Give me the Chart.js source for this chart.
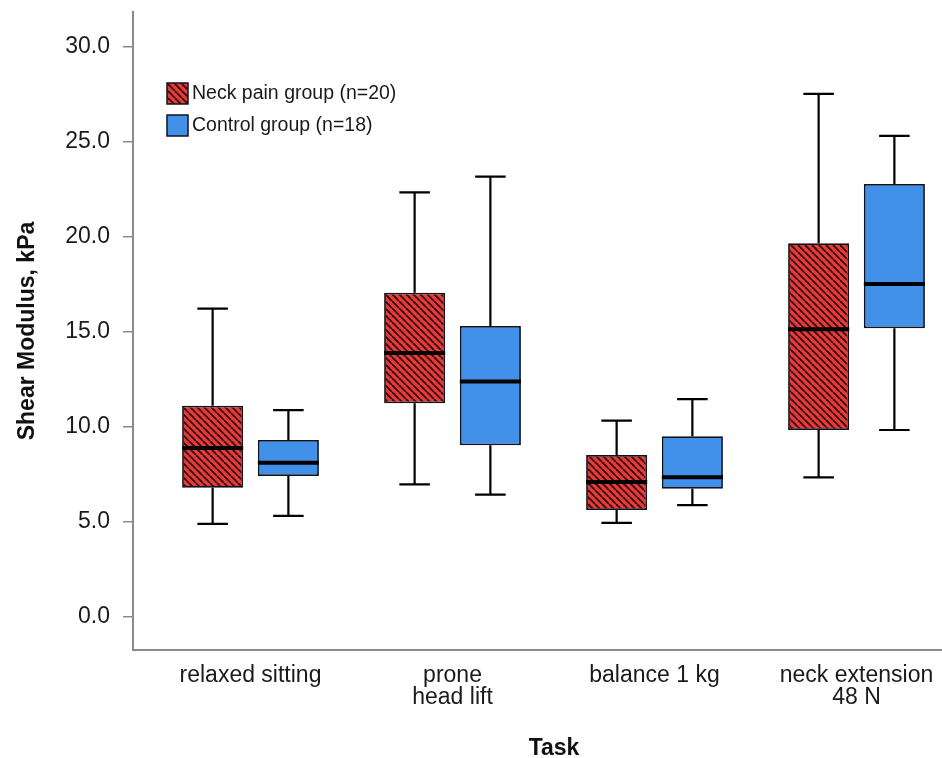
<!DOCTYPE html>
<html>
<head>
<meta charset="utf-8">
<script src="https://cdn.jsdelivr.net/npm/chart.js@4.4.0/dist/chart.umd.min.js"></script>
<style>
  html, body { margin: 0; padding: 0; background: #fff; overflow: hidden; }
  #wrap { width: 975px; height: 758px; }
</style>
</head>
<body>
<div id="wrap"><canvas id="myChart" width="975" height="758"></canvas></div>
<script>
// categories and tick labels
const tasks = [["relaxed sitting"], ["prone", "head lift"], ["balance 1 kg"], ["neck extension", "48 N"]];
const yTicks = [0, 5, 10, 15, 20, 25, 30];
const groupNames = ["Neck pain group (n=20)", "Control group (n=18)"];

// neck pain group (n=20)
const neckMin = [4.9, 6.98, 4.95, 7.35];
const neckQ1  = [6.8, 11.25, 5.63, 9.84];
const neckMed = [8.9, 13.9, 7.1, 15.14];
const neckQ3  = [11.12, 17.07, 8.53, 19.67];
const neckMax = [16.23, 22.35, 10.33, 27.53];

// control group (n=18)
const ctrlMin = [5.32, 6.44, 5.89, 9.84];
const ctrlQ1  = [7.42, 9.04, 6.75, 15.19];
const ctrlMed = [8.12, 12.4, 7.35, 17.53];
const ctrlQ3  = [9.32, 15.32, 9.51, 22.79];
const ctrlMax = [10.89, 23.18, 11.47, 25.32];

//red fill with dark diagonal stripes
const makeHatch = () => {
    const c = document.createElement('canvas');
    c.width = 7; c.height = 7;
    const g = c.getContext('2d');
    g.fillStyle = '#e53b3d';
    g.fillRect(0, 0, 7, 7);
    g.strokeStyle = '#3a0c0c';
    g.lineWidth = 1.9;
    for (let k = -1; k <= 1; k++) {
        g.beginPath();
        g.moveTo(k * 7, 0);
        g.lineTo(k * 7 + 7, 7);
        g.stroke();
    }
    return document.getElementById('myChart').getContext('2d').createPattern(c, 'repeat');
};
const hatch = makeHatch();
const blue = '#4191e8';

const boxes = (q1, q3) => q1.map((v, i) => ({x: i, y: [v, q3[i]]}));

//no extra label padding, the plot area is set by the layout
const noPad = (s) => { s.paddingLeft = 0; s.paddingRight = 0; s.paddingTop = 0; s.paddingBottom = 0; };

//whiskers, caps and medians drawn on top of the floating bars
const whiskerPlugin = {
    id: 'whiskers',
    afterDatasetsDraw(chart) {
        const ctx = chart.ctx;
        const y = chart.scales.y;
        chart.data.datasets.forEach((ds, d) => {
            const meta = chart.getDatasetMeta(d);
            meta.data.forEach((bar, i) => {
                const half = bar.width / 2;
                const cap = bar.width / 4;
                ctx.save();
                ctx.strokeStyle = '#000';
                ctx.lineWidth = 2.2;
                ctx.beginPath();
                ctx.moveTo(bar.x, y.getPixelForValue(ds.q3[i]));
                ctx.lineTo(bar.x, y.getPixelForValue(ds.max[i]));
                ctx.moveTo(bar.x - cap, y.getPixelForValue(ds.max[i]));
                ctx.lineTo(bar.x + cap, y.getPixelForValue(ds.max[i]));
                ctx.moveTo(bar.x, y.getPixelForValue(ds.q1[i]));
                ctx.lineTo(bar.x, y.getPixelForValue(ds.min[i]));
                ctx.moveTo(bar.x - cap, y.getPixelForValue(ds.min[i]));
                ctx.lineTo(bar.x + cap, y.getPixelForValue(ds.min[i]));
                ctx.stroke();
                ctx.lineWidth = 4;
                ctx.beginPath();
                ctx.moveTo(bar.x - half, y.getPixelForValue(ds.med[i]));
                ctx.lineTo(bar.x + half, y.getPixelForValue(ds.med[i]));
                ctx.stroke();
                ctx.restore();
            });
        });
    }
};

//legend box inside the plot, top left
const legendPlugin = {
    id: 'boxLegend',
    afterDraw(chart) {
        const ctx = chart.ctx;
        chart.data.datasets.forEach((ds, d) => {
            const top = 83 + d * 32;
            ctx.save();
            ctx.fillStyle = ds.backgroundColor;
            ctx.fillRect(167, top, 21, 21);
            ctx.strokeStyle = '#10121e';
            ctx.lineWidth = 1.5;
            ctx.strokeRect(167, top, 21, 21);
            ctx.fillStyle = '#1a1a1a';
            ctx.font = '19.5px "Liberation Sans", Arial, sans-serif';
            ctx.textBaseline = 'middle';
            ctx.fillText(groupNames[d], 192, top + 11);
            ctx.restore();
        });
    }
};

new Chart("myChart", {
  type: "bar",
  data: {
    datasets: [{
      label: groupNames[0],
      data: boxes(neckQ1, neckQ3),
      q1: neckQ1, q3: neckQ3, med: neckMed, min: neckMin, max: neckMax,
      backgroundColor: hatch,
      borderColor: '#10121e',
      borderWidth: 1.8,
      borderSkipped: false
    }, {
      label: groupNames[1],
      data: boxes(ctrlQ1, ctrlQ3),
      q1: ctrlQ1, q3: ctrlQ3, med: ctrlMed, min: ctrlMin, max: ctrlMax,
      backgroundColor: blue,
      borderColor: '#10121e',
      borderWidth: 1.8,
      borderSkipped: false
    }]
  },
  options: {
    responsive: false,
    animation: false,
    categoryPercentage: 0.75,
    barPercentage: 0.806,
    layout: {padding: {top: 12, right: 0, left: 0, bottom: 0}},
    plugins: {
      legend: {display: false},
      tooltip: {enabled: false}
    },
    scales: {
      x: {
        type: 'linear',
        offset: false,
        min: -0.5817,
        max: 3.5866,
        afterBuildTicks: (s) => { s.ticks = tasks.map((t, i) => ({value: i})); },
        afterFit: (s) => { s.height = 108; noPad(s); },
        ticks: {
          autoSkip: false,
          maxRotation: 0,
          padding: 15,
          color: '#1a1a1a',
          font: {family: '"Liberation Sans", Arial, sans-serif', size: 23, lineHeight: 0.95},
          callback: (v) => tasks[v]
        },
        grid: {display: true, drawOnChartArea: false, drawTicks: false},
        border: {display: true, color: '#8a8a8a', width: 2},
        title: {
          display: true,
          text: 'Task',
          color: '#111',
          padding: {top: 0, bottom: 0},
          font: {family: '"Liberation Sans", Arial, sans-serif', size: 23, weight: 'bold', lineHeight: 0.85}
        }
      },
      y: {
        min: -1.737,
        max: 31.84,
        afterBuildTicks: (s) => { s.ticks = yTicks.map(v => ({value: v})); },
        afterFit: (s) => { s.width = 133; noPad(s); },
        ticks: {
          padding: 13,
          color: '#1a1a1a',
          font: {family: '"Liberation Sans", Arial, sans-serif', size: 23},
          callback: (v) => v.toFixed(1)
        },
        grid: {display: true, drawOnChartArea: false, drawTicks: true, tickLength: 10, color: '#8a8a8a', lineWidth: 1.5},
        border: {display: true, color: '#8a8a8a', width: 2},
        title: {
          display: true,
          text: 'Shear Modulus, kPa',
          color: '#111',
          padding: {top: 14, bottom: 0},
          font: {family: '"Liberation Sans", Arial, sans-serif', size: 23, weight: 'bold'}
        }
      }
    }
  },
  plugins: [whiskerPlugin, legendPlugin]
});
</script>
</body>
</html>
